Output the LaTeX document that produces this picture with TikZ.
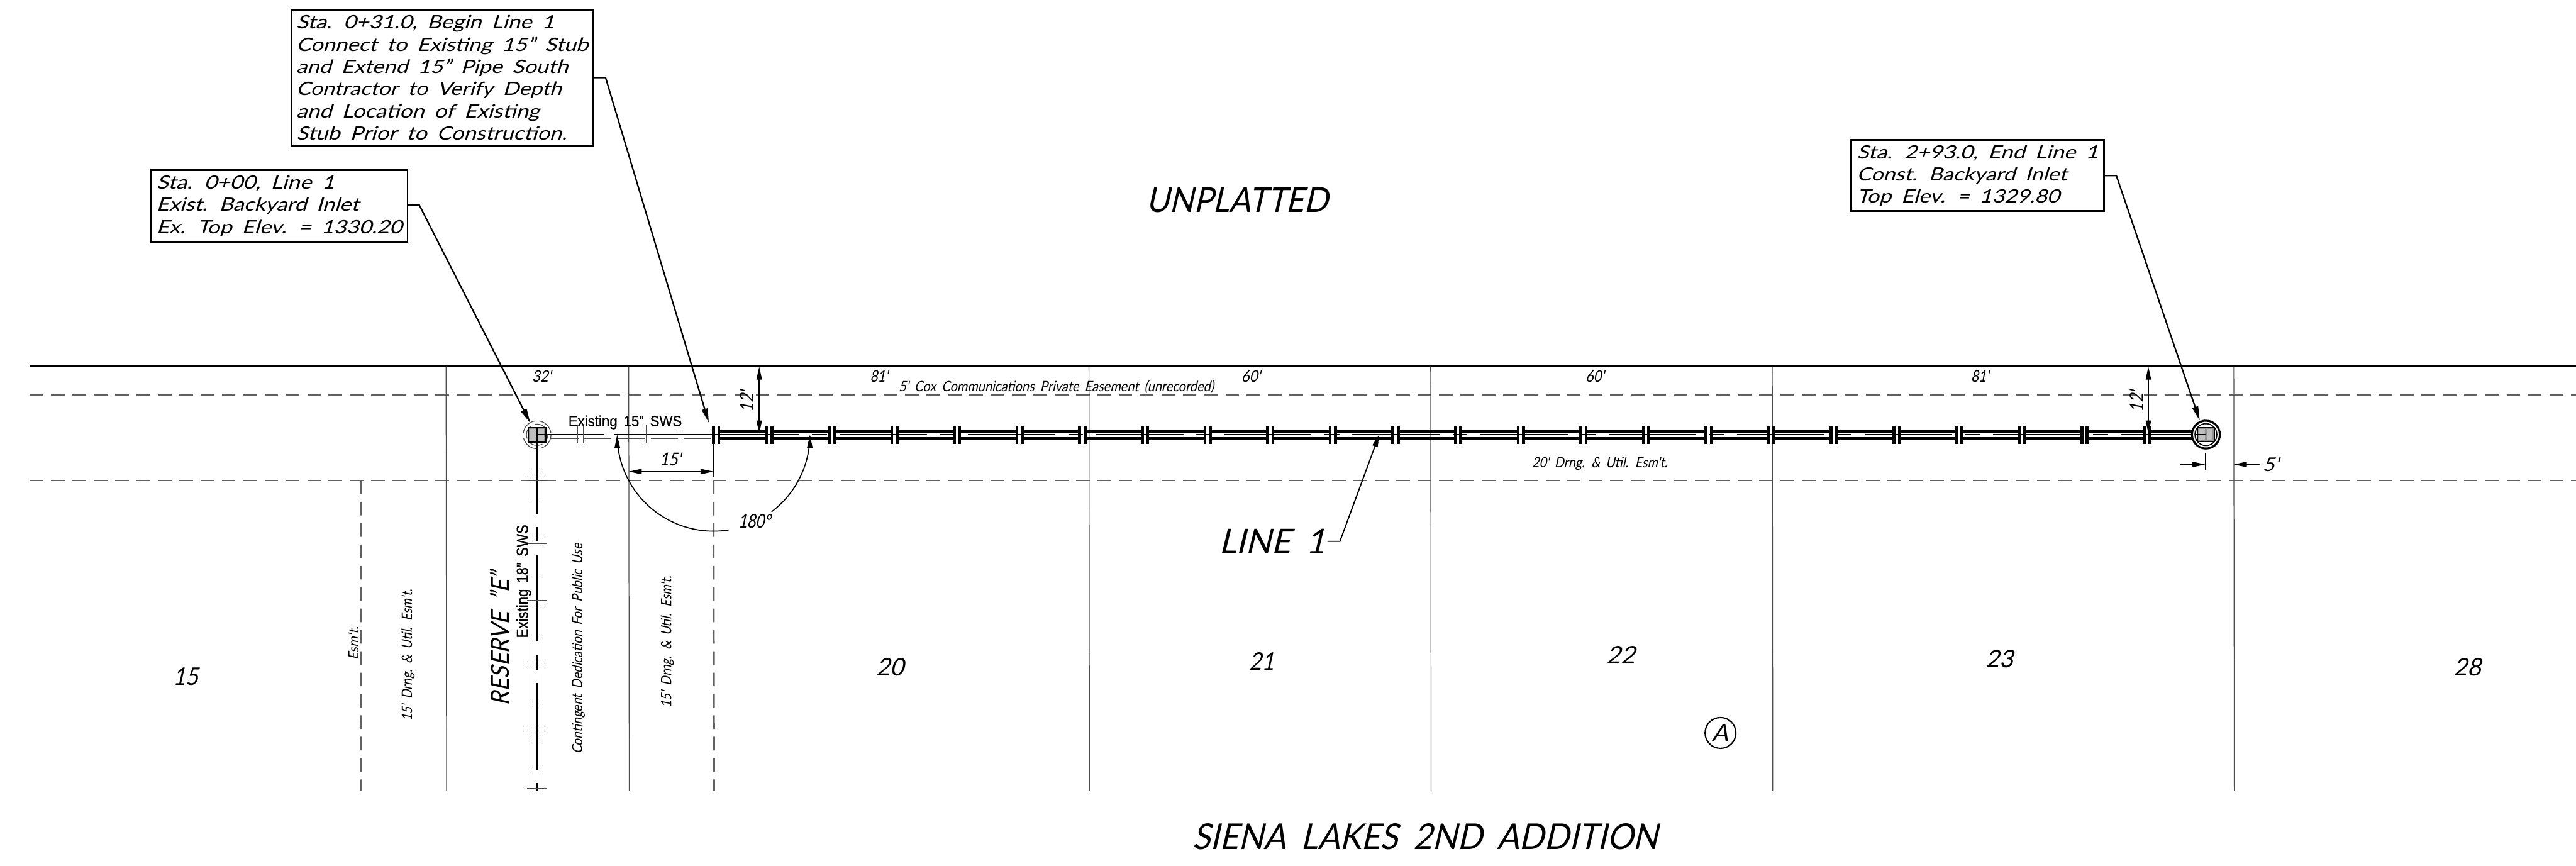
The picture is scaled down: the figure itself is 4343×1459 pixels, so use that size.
\documentclass[tikz,border=0pt]{standalone}
\usepackage{graphicx}
\usepackage{fontspec}
\usetikzlibrary{arrows.meta}
\newfontfamily\cadit[FakeSlant=0.25,WordSpace=1.8]{Lato}
\newfontfamily\cadup[WordSpace=1.6,FakeBold=0.6]{Liberation Sans}
\newcommand{\fw}[2]{\resizebox{#1pt}{\height}{#2}}
\definecolor{dashgray}{gray}{0.38}
\definecolor{lotgray}{gray}{0.30}
\tikzset{
  cad/.style={font=\cadit\fontsize{#1}{#1}\selectfont,inner sep=0pt,text=black},
  cadu/.style={font=\cadup\fontsize{#1}{#1}\selectfont,inner sep=0pt,text=black},
  notebox/.style={draw=black,line width=2.8pt,fill=white,rectangle,inner sep=0pt,
    align=left,font=\cadit\fontsize{31}{37.5}\selectfont},
  leader/.style={line width=2.4pt,-{Triangle[length=24pt,width=10pt]}},
  dimline/.style={line width=1.8pt,{Triangle[length=22pt,width=9pt]}-{Triangle[length=22pt,width=9pt]}},
  dimone/.style={line width=1.8pt,-{Triangle[length=22pt,width=9pt]}},
  row/.style={line width=3.6pt,black},
  easement/.style={line width=3pt,dashgray,dash pattern=on 23pt off 13pt},
  lotline/.style={line width=1.3pt,lotgray},
  pipewall/.style={line width=5pt,black},
  pipebar/.style={line width=5pt,black},
  center/.style={line width=1.8pt,black},
  phantom/.style={line width=1.8pt,black,dash pattern=on 147pt off 22pt on 25pt off 22pt},
  oldwall/.style={line width=1.2pt,lotgray,dash pattern=on 46pt off 10pt},
  oldjoint/.style={line width=1.2pt,lotgray},
}
\begin{document}
\begin{tikzpicture}[x=1pt,y=-1pt]
\useasboundingbox (0,0) rectangle (4343,1459);
\fill[white] (0,0) rectangle (4343,1459);

% right of way and easements
\draw[row] (50,617.5) -- (4343,617.5);
\draw[easement] (50,666) -- (4343,666);
\draw[easement] (50,810) -- (4343,810);
\draw[easement] (608,810) -- (609,1333);
\draw[easement] (1203,810) -- (1204,1333);

% lot lines
\foreach \lx in {752,1060,1836,2412,2988,3766}{
  \draw[lotline] (\lx,618) -- (\lx+0.8,1333);
}

% existing 15 in pipe
\draw[oldwall] (929,726.7) -- (1203,726.7);
\draw[oldwall] (929,739) -- (1203,739);
\draw[center] (917,732.7) -- (1019,732.7);
\draw[center] (1036,732.7) -- (1203,732.7);
\foreach \jx in {974,984,1081,1090}{
  \draw[oldjoint] (\jx,716.7) -- (\jx,748);
}

% existing 18 in pipe
\draw[oldwall] (898.7,745) -- (898.7,1333);
\draw[oldwall] (912,745) -- (912,1333);
\draw[phantom,dash phase=14pt] (905.5,733) -- (905.5,1333);
\foreach \jy in {801.5,811,907,917,1012.6,1022,1118,1128,1224,1233,1329}{
  \draw[oldjoint] (888.6,\jy) -- (922,\jy);
}

% proposed line 1
\draw[pipebar] (1203,717.3) -- (1203,748.7);
\draw[pipebar] (1212,717.3) -- (1212,748.7);
\foreach \k in {0,...,22}{
  \pgfmathsetmacro{\c}{1296.7+105.6*\k}
  \pgfmathsetmacro{\a}{\c-4.5}
  \pgfmathsetmacro{\b}{\c+4.5}
  \pgfmathsetmacro{\p}{\c-105.6+4.5}
  \draw[pipebar] (\a,717.3) -- (\a,748.7);
  \draw[pipebar] (\b,717.3) -- (\b,748.7);
  \ifnum\k=0\relax
    \draw[pipewall] (1212,726.7) -- (\a,726.7);
    \draw[pipewall] (1212,739) -- (\a,739);
  \else
    \draw[pipewall] (\p,726.7) -- (\a,726.7);
    \draw[pipewall] (\p,739) -- (\a,739);
  \fi
}
\draw[pipewall] (3622,726.7) -- (3698,726.7);
\draw[pipewall] (3622,739) -- (3698,739);
\draw[phantom] (1200,732.7) -- (3700,732.7);

% begin inlet
\draw[line width=1.3pt,lotgray,dash pattern=on 30pt off 8pt] (905.5,733) circle[radius=23.5];
\draw[line width=1.3pt,lotgray,dash pattern=on 24pt off 7pt,dash phase=12pt] (905.5,733) circle[radius=18];
\node[draw=black,line width=2pt,fill=white,minimum width=29pt,minimum height=24pt,inner sep=0pt] (inletA) at (905.5,733) {};
\fill[gray!85] (891.5,721.5) rectangle (919.5,744.5);
\fill[gray!50] (894,723.5) rectangle (904,743);
\fill[gray!50] (907,723.5) rectangle (917,743);
\draw[line width=2.2pt,black] (890.7,720.7) rectangle (920.2,745.2);
\draw[center] (905.5,733) -- (920,733);
\draw[line width=2.2pt,black] (905.5,720.7) -- (905.5,745.2);
\draw[center] (905.5,745) -- (905.5,760);

% end inlet
\node[circle,draw=black,line width=3.4pt,fill=white,minimum size=47pt,inner sep=0pt] (inletB) at (3719,732.7) {};
\draw[line width=1.8pt,black] (3719,732.7) circle[radius=18.5];
\fill[gray!85] (3705,721.5) rectangle (3733,744);
\fill[gray!50] (3707.5,723.5) rectangle (3717.5,742.5);
\fill[gray!50] (3720.5,723.5) rectangle (3730.5,742.5);
\draw[line width=1.8pt,black] (3704.5,720.7) rectangle (3733.5,744.7);
\draw[line width=1.8pt,black] (3719,720.7) -- (3719,744.7);
\draw[center] (3700,732.7) -- (3719,732.7);

% note boxes
\node[notebox,minimum width=507pt,minimum height=229.5pt] (noteB) at (745.5,131.2) {%
\fw{435}{Sta. 0+31.0, Begin Line 1}\\
\fw{492}{Connect to Existing 15” Stub}\\
\fw{458}{and Extend 15” Pipe South}\\
\fw{447}{Contractor to Verify Depth}\\
\fw{410}{and Location of Existing}\\
\fw{456}{Stub Prior to Construction.}};
\node[notebox,minimum width=432.5pt,minimum height=121pt] (noteA) at (470.7,347.5) {%
\fw{300}{Sta. 0+00, Line 1}\\
\fw{341}{Exist. Backyard Inlet}\\
\fw{414}{Ex. Top Elev. = 1330.20}};
\node[notebox,minimum width=426.3pt,minimum height=120pt] (noteC) at (3333.8,296) {%
\fw{407}{Sta. 2+93.0, End Line 1}\\
\fw{354}{Const. Backyard Inlet}\\
\fw{342}{Top Elev. = 1329.80}};

% leaders
\coordinate (kneeA) at (707,346);
\coordinate (tipA) at (894,713);
\coordinate (kneeB) at (1021,131);
\coordinate (tipB) at (1195,712.7);
\coordinate (kneeC) at (3568,296);
\coordinate (tipC) at (3708.6,709);
\draw[leader] (noteA.east |- kneeA) -- (kneeA) -- (tipA);
\draw[leader] (noteB.east |- kneeB) -- (kneeB) -- (tipB);
\draw[leader] (noteC.east |- kneeC) -- (kneeC) -- (tipC);

% dimensions
\coordinate (d12aT) at (1280,618);
\coordinate (d12aB) at (1280,731);
\coordinate (d12bT) at (3622,618);
\coordinate (d12bB) at (3622,731);
\draw[dimline] (d12aT) -- (d12aB);
\draw[dimline] (d12bT) -- (d12bB);
\coordinate (d15L) at (1060,795);
\coordinate (d15R) at (1203,795);
\draw[dimline] (d15L) -- (d15R);
\draw[line width=1.8pt] (1203,748) -- (1203,805);
\coordinate (d5a) at (3675,783);
\coordinate (d5b) at (3718,783);
\coordinate (d5c) at (3811,783);
\coordinate (d5d) at (3766,783);
\draw[dimone] (d5a) -- (d5b);
\draw[dimone] (d5c) -- (d5d);
\draw[line width=1.6pt] (3718,763) -- (3718,793);

% 180 degree arcs
\draw[line width=1.8pt,{Triangle[length=22pt,width=9pt]}-,domain=180:81,samples=60,smooth,variable=\t]
  plot ({1203+162.5*cos(\t)},{733+162.5*sin(\t)});
\draw[line width=1.8pt,-{Triangle[length=22pt,width=9pt]},domain=53:0,samples=40,smooth,variable=\t]
  plot ({1203+162.5*cos(\t)},{733+162.5*sin(\t)});

% line 1 label and leader
\node[cad=58] (lblLine) at (2145,913) {\fw{180}{LINE 1}};
\coordinate (kneeL) at (2259,912.7);
\coordinate (tipL) at (2325.7,731.7);
\draw[line width=2pt,-{Triangle[length=22pt,width=9pt]}] (2238,912.7) -- (kneeL) -- (tipL);

% large labels
\node[cad=58] (lblUnpl) at (2086,337) {\fw{307}{UNPLATTED}};
\node[cad=60] (lblSiena) at (2403,1410) {\fw{784}{SIENA LAKES 2ND ADDITION}};
\node[cad=42,rotate=90] (lblRes) at (842,1077) {\fw{226}{RESERVE ”E”}};
\node[cadu=27,rotate=90] (lbl18) at (883,980) {\fw{191}{Existing 18” SWS}};
\node[cadu=25] (lbl15) at (1054,712) {\fw{191.5}{Existing 15” SWS}};

% small labels
\node[cad=24,rotate=90] (lblCont) at (975,1094) {\fw{354}{Contingent Dedication For Public Use}};
\node[cad=24,rotate=90] (lblDrL) at (688,1105) {\fw{222}{15' Drng. \& Util. Esm't.}};
\node[cad=24,rotate=90] (lblEsm) at (596,1085) {\fw{56}{Esm't.}};
\node[cad=24,rotate=90] (lblDrR) at (1125,1082) {\fw{222}{15' Drng. \& Util. Esm't.}};
\node[cad=24] (lblCox) at (1781,653) {\fw{531}{5' Cox Communications Private Easement (unrecorded)}};
\node[cad=24] (lblDr20) at (2697,782) {\fw{228}{20' Drng. \& Util. Esm't.}};

% dimension labels
\node[cad=27] (t32) at (913,634) {\fw{32}{32'}};
\node[cad=27] (t81a) at (1482,634) {\fw{30}{81'}};
\node[cad=27] (t60a) at (2109,634) {\fw{32}{60'}};
\node[cad=27] (t60b) at (2689,634) {\fw{31}{60'}};
\node[cad=27] (t81b) at (3338,634) {\fw{30}{81'}};
\node[cad=32,rotate=90] (t12a) at (1259,677) {\fw{35}{12'}};
\node[cad=32,rotate=90] (t12b) at (3602,677) {\fw{35}{12'}};
\node[cad=30] (t15) at (1130,775) {\fw{36}{15'}};
\node[cad=32] (t180) at (1272,879) {\fw{54}{180°}};
\node[cad=32] (t5) at (3828,783) {\fw{27}{5'}};

% lot numbers
\node[cad=41] (lot15) at (313,1141) {\fw{42}{15}};
\node[cad=41] (lot20) at (1501,1125) {\fw{46}{20}};
\node[cad=41] (lot21) at (2127,1115) {\fw{42}{21}};
\node[cad=41] (lot22) at (2733,1104) {\fw{48}{22}};
\node[cad=41] (lot23) at (3371,1111) {\fw{46}{23}};
\node[cad=41] (lot28) at (4160,1125) {\fw{46}{28}};

% block letter
\node[circle,draw=black,line width=2.2pt,minimum size=52pt,inner sep=0pt] (blockA) at (2900.6,1235.7) {};
\node[cad=40] (lblA) at (2900.6,1235.7) {A};
\end{tikzpicture}
\end{document}
